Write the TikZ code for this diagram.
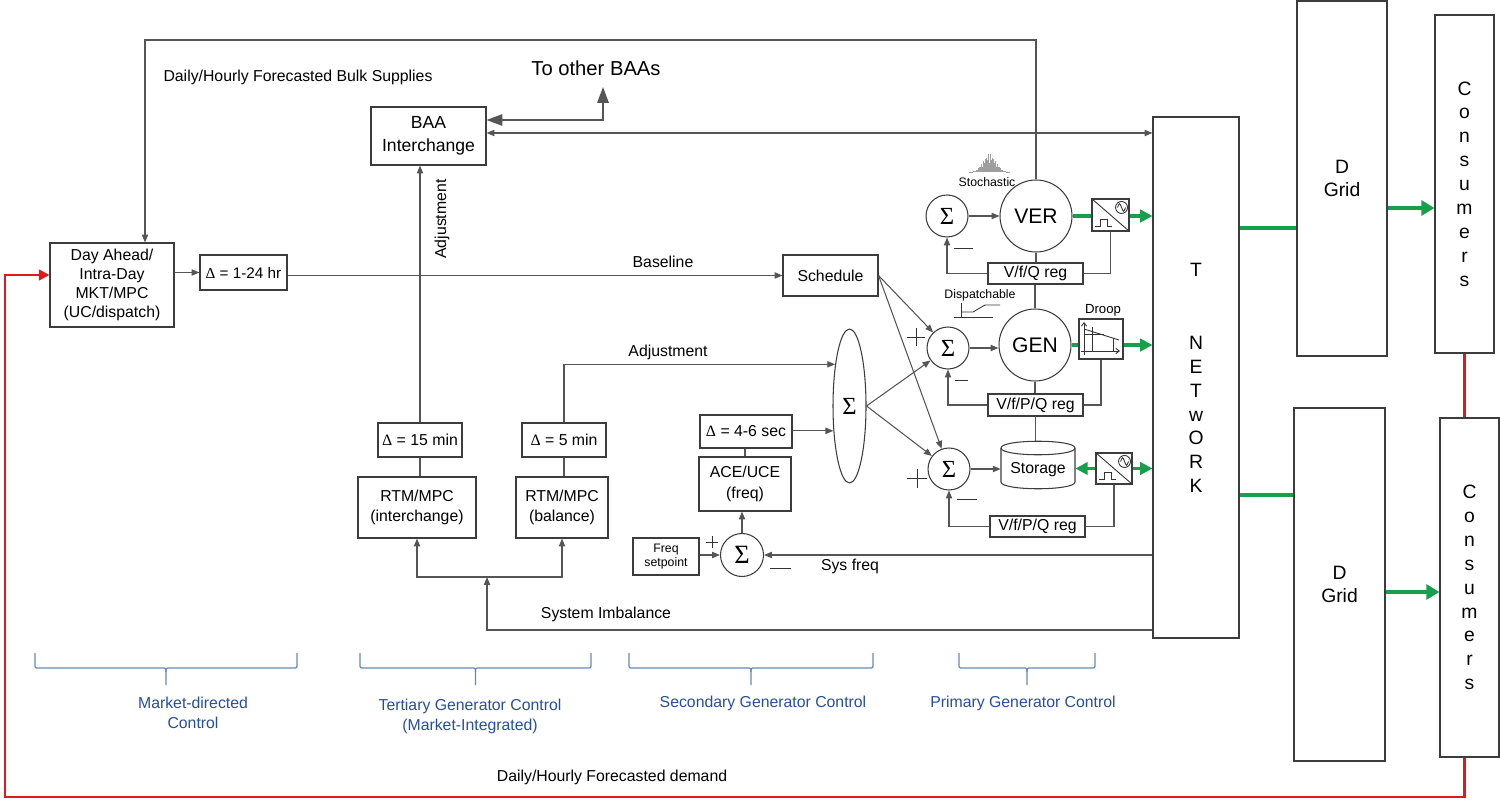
\documentclass[tikz,border=0pt]{standalone}
\usepackage{fontspec}
\setmainfont{Liberation Sans}
\newfontfamily\grk{Liberation Serif}
\usetikzlibrary{arrows.meta,shapes.geometric,calc}
\definecolor{grn}{RGB}{22,160,75}
\definecolor{rd}{RGB}{220,28,28}
\definecolor{bluet}{RGB}{38,78,160}
\definecolor{brcc}{RGB}{100,138,180}
\definecolor{boxc}{RGB}{60,60,60}
\definecolor{linec}{RGB}{85,85,85}
\newcommand\bx[7][]{\node[box,minimum width={(#5-#3)*0.02cm},minimum height={(#6-#4)*0.02cm},#1] (#2) at ({(#3+#5)/2},{(#4+#6)/2}) {#7};}
\newcommand\convicon[1]{%
  \draw[sgn] (#1.north west) -- (#1.south east);
  \begin{scope}[shift={(#1.south west)}]
    \draw[sgn] (4,-5) -- (9,-5) -- (9,-12) -- (16,-12) -- (16,-5) -- (21,-5);
  \end{scope}
  \begin{scope}[shift={(#1.north east)}]
    \draw[sgn] (-8,9) circle[radius=0.12cm];
    \draw[sgn] (-12,9) .. controls (-10,4) .. (-8,9) .. controls (-6,14) .. (-4,9);
  \end{scope}}
\newcommand\grpbrace[2]{%
  \pgfmathsetmacro\brtip{(#1+#2)/2}%
  \draw[brc] (#1,653) -- (#1,664) .. controls (#1,668) .. ({#1+4},668) -- ({\brtip-4},668) .. controls (\brtip,668) .. (\brtip,672) -- (\brtip,685);
  \draw[brc] (#2,653) -- (#2,664) .. controls (#2,668) .. ({#2-4},668) -- ({\brtip+4},668) .. controls (\brtip,668) .. (\brtip,672);}
\begin{document}
\begin{tikzpicture}[x=0.02cm,y=-0.02cm,
  box/.style={draw=boxc,line width=0.6pt,fill=white,inner sep=1pt,align=center,font=\fontsize{9}{10.8}\selectfont},
  circ/.style={draw=boxc,line width=0.6pt,fill=white,circle,inner sep=0pt},
  ln/.style={draw=linec,line width=0.6pt},
  arr/.style={ln,-{Triangle[length=4.5pt,width=3.6pt]}},
  gln/.style={draw=grn,line width=2pt},
  garr/.style={gln,-{Triangle[length=7pt,width=7pt]}},
  gln2/.style={draw=grn,line width=2.4pt},
  garr2/.style={gln2,-{Triangle[length=7.5pt,width=8.5pt]}},
  rln/.style={draw=rd,line width=1.4pt},
  lbl/.style={inner sep=0pt,align=center,font=\fontsize{9}{10.8}\selectfont},
  small/.style={inner sep=0pt,align=center,font=\fontsize{7}{8}\selectfont},
  blbl/.style={inner sep=0pt,align=center,text=bluet,font=\fontsize{9}{11.3}\selectfont},
  brc/.style={draw=brcc,line width=0.7pt},
  sgn/.style={draw=black!80,line width=0.5pt},
  sig/.style={font=\grk\fontsize{14}{14}\selectfont},
]
\useasboundingbox (0,0) rectangle (1500,800);

% ---------- boxes ----------
\bx{da}{50}{243}{174}{327}{Day Ahead/\\Intra-Day\\MKT/MPC\\(UC/dispatch)}
\bx[font=\fontsize{8.7}{10}\selectfont,inner sep=0.3pt]{d124}{200}{255}{287}{290}{{\grk Δ} = 1-24 hr}
\bx[font=\fontsize{10}{13}\selectfont]{baa}{371}{107}{486}{165}{BAA\\Interchange}
\bx{d15}{378}{423}{462}{457}{{\grk Δ} = 15 min}
\bx[font=\fontsize{9}{11.3}\selectfont]{rtmi}{358}{477}{476}{538}{RTM/MPC\\(interchange)}
\bx{d5}{522}{423}{606}{457}{{\grk Δ} = 5 min}
\bx[font=\fontsize{9}{11.3}\selectfont]{rtmb}{516}{477}{608}{538}{RTM/MPC\\(balance)}
\bx{sched}{783}{255}{878}{296}{Schedule}
\bx[font=\fontsize{7}{8}\selectfont]{freq}{633}{538}{699}{575}{Freq\\setpoint}
\bx{d46}{700}{415}{792}{448}{{\grk Δ} = 4-6 sec}
\bx[font=\fontsize{9}{12}\selectfont]{ace}{699}{457}{791}{511}{ACE/UCE\\(freq)}
\bx{convV}{1092}{199}{1129}{231}{}
\bx{regV}{988}{263}{1083}{284}{V/f/Q reg}
\bx{droop}{1079}{319}{1123}{359}{}
\bx{regG}{988}{394}{1083}{416}{V/f/P/Q reg}
\bx{convS}{1096}{453}{1132}{484}{}
\bx{regS}{990}{516}{1085}{537}{V/f/P/Q reg}
\bx[font=\fontsize{11}{13.5}\selectfont]{net}{1153}{117}{1239}{638}{T\\[28.5pt]N\\E\\T\\w\\O\\R\\K}
\bx[font=\fontsize{11}{13}\selectfont]{dg1}{1297}{1}{1387}{356}{D\\Grid}
\bx[font=\fontsize{11}{13}\selectfont]{dg2}{1294}{408}{1385}{761}{D\\Grid}
\bx[font=\fontsize{11}{13.6}\selectfont]{con1}{1435}{15}{1494}{353}{C\\o\\n\\s\\u\\m\\e\\r\\s}
\bx[font=\fontsize{11}{13.6}\selectfont]{con2}{1440}{418}{1499}{757}{C\\o\\n\\s\\u\\m\\e\\r\\s}

% ---------- circles / ellipse / storage ----------
\node[circ,sig,minimum size=0.84cm] (sigV) at (947,216) {Σ};
\node[circ,font=\fontsize{12}{12}\selectfont,minimum size=1.44cm] (ver) at (1036,216) {VER};
\node[circ,sig,minimum size=0.84cm] (sigG) at (948,348) {Σ};
\node[circ,font=\fontsize{12}{12}\selectfont,minimum size=1.44cm] (gen) at (1035,345) {GEN};
\node[circ,sig,minimum size=0.84cm] (sigS) at (949,469) {Σ};
\node[circ,minimum size=0.86cm,font=\grk\fontsize{15}{15}\selectfont] (sig2) at (742,555) {Σ};
\node[draw=boxc,line width=0.6pt,fill=white,ellipse,inner sep=0pt,minimum width=0.66cm,minimum height=3.08cm,sig] (ell) at (849.5,406) {Σ};

\draw[draw=boxc,line width=0.6pt,fill=white] (1001,448) -- (1001,482) .. controls (1001,491) and (1075,491) .. (1075,482) -- (1075,448) .. controls (1075,439) and (1001,439) .. (1001,448) -- cycle;
\draw[draw=boxc,line width=0.6pt] (1001,448) .. controls (1001,457) and (1075,457) .. (1075,448);
\node[inner sep=0pt,minimum width=1.48cm,minimum height=0.96cm,font=\fontsize{9}{10.8}\selectfont] (stor) at (1038,465) {\raisebox{-0.1cm}[\height][\depth]{Storage}};

% ---------- icons ----------
\convicon{convV}
\convicon{convS}
\draw[sgn,-{Straight Barb[length=2pt,width=3pt]}] (1084,355) -- (1084,322);
\draw[sgn,-{Straight Barb[length=2pt,width=3pt]}] (1081,351) -- (1120,351);
\draw[sgn] (1084,329) -- (1119,340);
\draw[sgn] (1092,327) -- (1092,351);
\draw[sgn] (1084,334) -- (1104,334);
\draw[sgn] (1113,338) -- (1113,351);
\draw[sgn] (954,317) -- (993,317);
\draw[sgn] (961,303) -- (961,317);
\draw[sgn] (961,312) -- (973,312) -- (985,305) -- (1000,305);
\foreach \i in {-20,...,20} {\draw[gray!75,line width=0.35pt] ({989+\i},172) -- ({989+\i},{172-18*exp(-(\i/9)*(\i/9))*(0.5+0.5*abs(sin(\i*77)))});}

% ---------- signs ----------
\draw[sgn] (706,542) -- (718,542) (712,536) -- (712,548);
\draw[sgn] (770,568) -- (791,568);
\draw[sgn] (954,248) -- (973,248);
\draw[sgn] (907,337) -- (925,337) (916,328) -- (916,346);
\draw[sgn] (955,380) -- (968,380);
\draw[sgn] (907,478) -- (927,478) (917,469) -- (917,488);
\draw[sgn] (957,499) -- (977,499);

% ---------- labels ----------
\node[lbl] (lbulk) at (298,77) {Daily/Hourly Forecasted Bulk Supplies};
\node[lbl,font=\fontsize{11.5}{13}\selectfont] (lother) at (596,68) {To other BAAs};
\node[lbl,rotate=90] (ladj1) at (442,219) {Adjustment};
\node[lbl] (lbase) at (663,262) {Baseline};
\node[lbl] (ladj2) at (668,352) {Adjustment};
\node[lbl] (limb) at (606,614) {System Imbalance};
\node[lbl] (lsys) at (850,566) {Sys freq};
\node[small] (lsto) at (987,182) {Stochastic};
\node[small] (ldis) at (980,295) {Dispatchable};
\node[small,font=\fontsize{7.5}{8}\selectfont] (ldroop) at (1103,310) {Droop};
\node[lbl] (ldem) at (612,777) {Daily/Hourly Forecasted demand};
\node[blbl] (lmkt) at (193,713) {Market-directed\\Control};
\node[blbl] (lter) at (470,716) {Tertiary Generator Control\\(Market-Integrated)};
\node[blbl] (lsec) at (763,703) {Secondary Generator Control};
\node[blbl] (lpri) at (1023,703) {Primary Generator Control};
\grpbrace{35}{297}
\grpbrace{360}{591}
\grpbrace{629}{873}
\grpbrace{959}{1095}

% ---------- connectors ----------
\draw[arr] (da.east |- d124.west) -- (d124.west);
\draw[arr] (d124.east |- sched.west) -- (sched.west);
\draw[arr] (ver.north) -- (ver.north |- 0,40) -| ($(da.north)+(33,0)$);
\coordinate (othtip) at (603,87);
\draw[ln,line width=0.8pt,{Triangle[length=9pt,width=6.5pt]}-{Triangle[length=9pt,width=6.5pt]}] (baa.east |- 0,120) -| (othtip);
\draw[ln,{Triangle[length=4.5pt,width=3.6pt]}-{Triangle[length=4.5pt,width=3.6pt]}] (baa.east |- 0,133) -- (net.west |- 0,133);
\draw[arr] (d15.north) -- (baa.south -| d15.north);
\draw[ln] (d15.south) -- (rtmi.north -| d15.south);
\draw[ln] (d5.south) -- (rtmb.north -| d5.south);
\coordinate (ellA) at (ell.109);
\coordinate (ellB) at (ell.237);
\draw[arr] (d5.north) |- (ellA);
\draw[arr] (d46.east |- ellB) -- (ellB);
\draw[ln] (ace.north) -- (d46.south -| ace.north);
\draw[arr] (sig2.north) -- (ace.south -| sig2.north);
\draw[arr] (freq.east |- sig2.west) -- (sig2.west);
\draw[arr] (net.west |- sig2.east) -- (sig2.east);
\coordinate (jn) at (487,577);
\draw[arr] (net.west |- 0,630) -| (jn);
\draw[arr] (jn) -| (rtmi.south);
\draw[arr] (jn) -| (rtmb.south);
\draw[arr] (sched.east) -- (sigG);
\draw[arr] (sched.east) -- (sigS);
\draw[arr] (ell.east) -- (sigG);
\draw[arr] (ell.east) -- (sigS);
\draw[arr] (sigV.east) -- (ver.west |- sigV.east);
\draw[arr] (sigG.east) -- (gen.west |- sigG.east);
\draw[arr] (sigS.east) -- (stor.west |- sigS.east);
\draw[ln] (ver.south) -- (regV.north -| ver.south);
\draw[ln] (regV.south -| gen.north) -- (gen.north);
\draw[arr] (regV.west) -| (sigV.south);
\draw[ln] (regV.east) -| (convV.south);
\draw[ln] (gen.south) -- (regG.north -| gen.south);
\draw[ln] (regG.south) -- (stor.north -| regG.south);
\draw[arr] (regG.west) -| (sigG.south);
\draw[ln] (regG.east) -| (droop.south);
\draw[arr] (regS.west) -| (sigS.south);
\draw[ln] (regS.east) -| (convS.south);
% green power flow
\draw[gln] (ver.east) -- (convV.west |- ver.east);
\draw[garr] (convV.east |- ver.east) -- (net.west |- ver.east);
\draw[gln] (gen.east) -- (droop.west |- gen.east);
\draw[garr] (droop.east |- gen.east) -- (net.west |- gen.east);
\draw[garr] (convS.west) -- (stor.east |- convS.west);
\draw[garr] (convS.east) -- (net.west |- convS.east);
\draw[gln2] (net.east |- 0,228) -- (dg1.west |- 0,228);
\draw[garr2] (dg1.east |- 0,208) -- (con1.west |- 0,208);
\draw[gln2] (net.east |- 0,495) -- (dg2.west |- 0,495);
\draw[garr2] (dg2.east |- 0,592) -- (con2.west |- 0,592);
% red demand loop
\draw[rln] (con1.south) -- (con1.south |- con2.north);
\draw[rln,-{Triangle[length=6pt,width=6pt]}] (con1.south |- con2.south) |- (5,797) |- (da.west |- 0,275);
\end{tikzpicture}
\end{document}
